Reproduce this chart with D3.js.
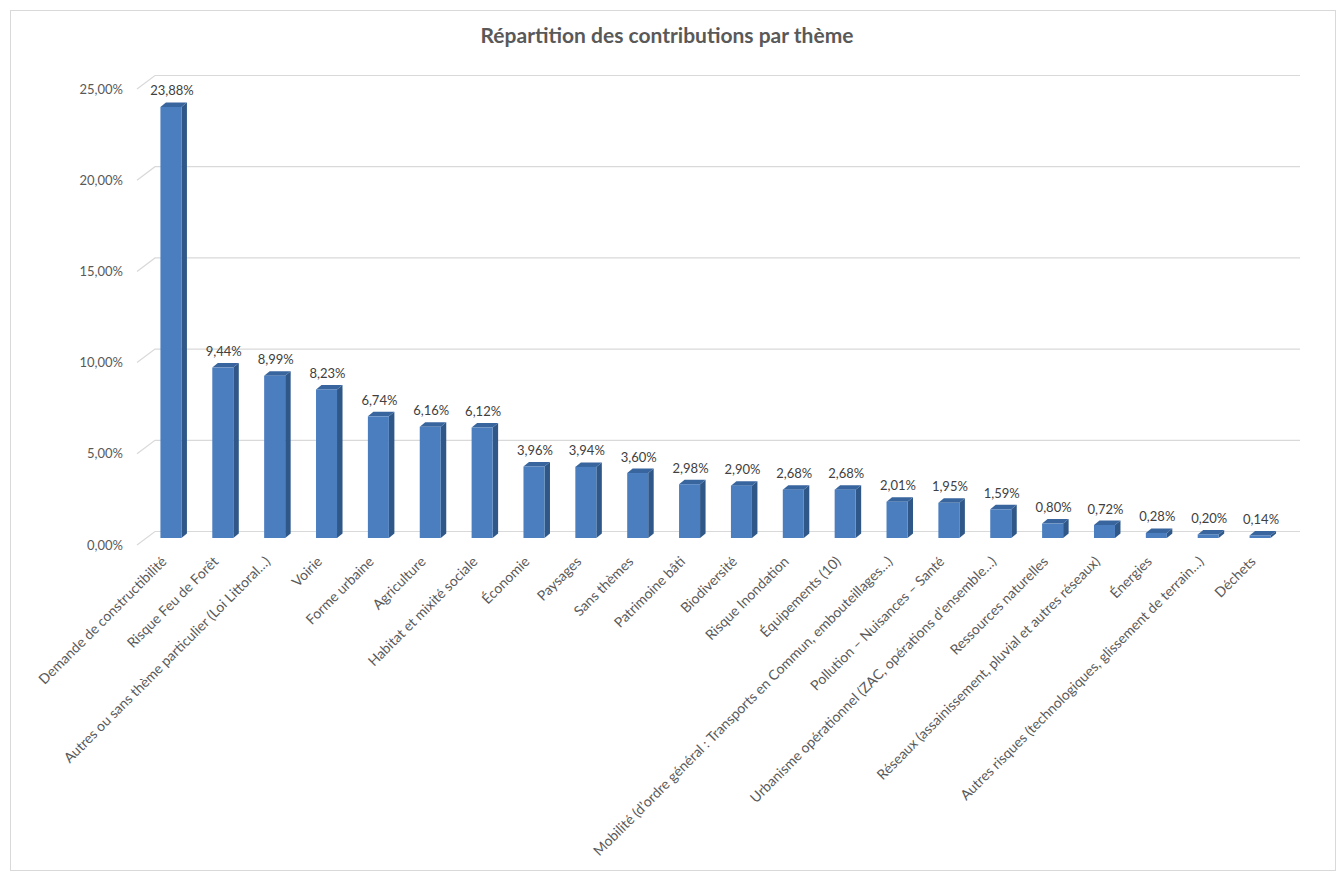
<!DOCTYPE html>
<html>
<head>
<meta charset="utf-8">
<script src="https://cdn.jsdelivr.net/npm/d3@7"></script>
<style>
  html, body { margin: 0; padding: 0; background: #ffffff; }
  svg { display: block; }
  text { font-family: Lato, "Open Sans", sans-serif; }
</style>
</head>
<body>
<svg id="chart" width="1338" height="877"></svg>
<script>
// Share of contributions per theme (percent)
const categories = [
  "Demande de constructibilité",
  "Risque Feu de Forêt",
  "Autres ou sans thème particulier (Loi Littoral…)",
  "Voirie",
  "Forme urbaine",
  "Agriculture",
  "Habitat et mixité sociale",
  "Économie",
  "Paysages",
  "Sans thèmes",
  "Patrimoine bâti",
  "Biodiversité",
  "Risque Inondation",
  "Équipements (10)",
  "Mobilité (d’ordre général : Transports en Commun, embouteillages…)",
  "Pollution – Nuisances – Santé",
  "Urbanisme opérationnel (ZAC, opérations d’ensemble…)",
  "Ressources naturelles",
  "Réseaux (assainissement, pluvial et autres réseaux)",
  "Énergies",
  "Autres risques (technologiques, glissement de terrain…)",
  "Déchets"
];
const values = [23.88, 9.44, 8.99, 8.23, 6.74, 6.16, 6.12, 3.96, 3.94, 3.60, 2.98, 2.90, 2.68, 2.68, 2.01, 1.95, 1.59, 0.80, 0.72, 0.28, 0.20, 0.14];
const yTicks = [0, 5, 10, 15, 20, 25];
const title = "Répartition des contributions par thème";

const fmt = v => v.toFixed(2).replace(".", ",") + "%";

const svg = d3.select("#chart");

// chart frame
svg.append("rect")
  .attr("x", 10.5).attr("y", 10.5)
  .attr("width", 1325).attr("height", 860)
  .attr("fill", "#ffffff").attr("stroke", "#d9d9d9").attr("stroke-width", 1);

// title
svg.append("text")
  .attr("x", 667).attr("y", 43)
  .attr("text-anchor", "middle")
  .attr("font-size", 21).attr("font-weight", "bold")
  .attr("fill", "#595959")
  .text(title);

// oblique 3D projection: back wall vs front edge of the floor
const depthDx = 18, depthDy = -13.5;
const yBack = d3.scaleLinear().domain([0, 25]).range([531.5, 75.5]);
const wallRight = 1300;

const x = d3.scaleBand()
  .domain(categories)
  .range([145, 1286])
  .paddingInner(0.595)
  .paddingOuter(0.2975);

// bars sit midway in depth
const yBar = d3.scaleLinear().domain([0, 25]).range([538, 538 - 25 * 18.05]);

// gridlines on the back wall with the slanted side-wall edge
const grid = svg.append("g").attr("class", "grid");
yTicks.forEach(t => {
  const yb = yBack(t);
  grid.append("path")
    .attr("d", `M${137},${yb - depthDy} L${137 + depthDx},${yb} L${wallRight},${yb}`)
    .attr("fill", "none").attr("stroke", "#d9d9d9").attr("stroke-width", 1.2);
});

// y axis labels at the front edge
const yAxis = d3.axisLeft(d3.scaleLinear().domain([0, 25]).range([531.5 - depthDy, 75.5 - depthDy]))
  .tickValues(yTicks)
  .tickFormat(fmt)
  .tickSize(0)
  .tickPadding(0);
const yG = svg.append("g").attr("transform", "translate(123,0)").call(yAxis);
yG.select(".domain").remove();
yG.selectAll("text")
  .attr("font-family", "Lato, 'Open Sans', sans-serif")
  .attr("font-size", 13).attr("fill", "#595959");

// 3D columns
const sideDx = 5.5, sideDy = -4.5;
const bw = x.bandwidth();
const bars = svg.append("g").attr("class", "bars")
  .selectAll("g").data(categories).join("g");

bars.each(function (c, i) {
  const g = d3.select(this);
  const x0 = x(c), x1 = x0 + bw;
  const y0 = yBar(0), y1 = yBar(values[i]);
  // side face
  g.append("path")
    .attr("d", `M${x1},${y0} L${x1 + sideDx},${y0 + sideDy} L${x1 + sideDx},${y1 + sideDy} L${x1},${y1} Z`)
    .attr("fill", "#2f5889");
  // top face
  g.append("path")
    .attr("d", `M${x0},${y1} L${x0 + sideDx},${y1 + sideDy} L${x1 + sideDx},${y1 + sideDy} L${x1},${y1} Z`)
    .attr("fill", "#38659d");
  // front face
  g.append("rect")
    .attr("x", x0).attr("y", y1)
    .attr("width", bw).attr("height", Math.max(0, y0 - y1))
    .attr("fill", "#4a7ebf");
  // value label
  g.append("text")
    .attr("x", x0 + bw / 2 + 1)
    .attr("y", y1 + sideDy - 7)
    .attr("text-anchor", "middle")
    .attr("font-size", 13).attr("fill", "#404040")
    .text(fmt(values[i]));
});

// category labels, rotated
const xAxis = d3.axisBottom(x).tickSize(0).tickPadding(0);
const xG = svg.append("g").attr("transform", "translate(0,556)").call(xAxis);
xG.select(".domain").remove();
xG.selectAll(".tick text")
  .attr("font-family", "Lato, 'Open Sans', sans-serif")
  .attr("font-size", 14).attr("fill", "#595959")
  .attr("text-anchor", "end")
  .attr("dy", "0.35em")
  .attr("transform", "translate(-7,3) rotate(-45)");
</script>
</body>
</html>
